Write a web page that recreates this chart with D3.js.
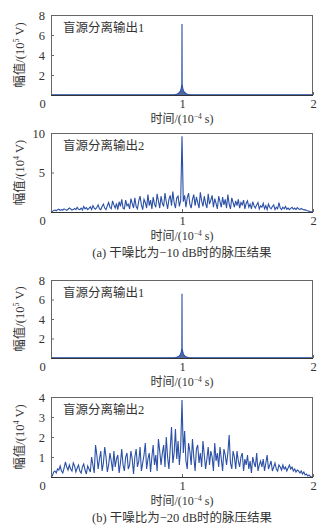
<!DOCTYPE html>
<html lang="zh">
<head>
<meta charset="UTF-8">
<title>脉压结果</title>
<script src="https://cdn.jsdelivr.net/npm/d3@7"></script>
<style>
body{margin:0;background:#fff;}
svg text{font-family:"Liberation Serif","Noto Sans CJK SC",serif;fill:#333;}
.marco{fill:none;stroke:#666;stroke-width:1;}
.linea{fill:none;stroke:#2b50a6;stroke-width:1.1;}
.area{fill:#2b50a6;opacity:0.85;}
</style>
</head>
<body>
<div id="grafico"></div>
<script>
// datos
var xTicks = [0, 1, 2];
var yTicksSalida1 = [2, 4, 6, 8];
var yTicks2a = [5, 10];
var yTicks2b = [1, 2, 3, 4];
var etiquetas = ["盲源分离输出1", "盲源分离输出2"];
var pies = ["(a) 干噪比为−10 dB时的脉压结果", "(b) 干噪比为−20 dB时的脉压结果"];

// salida 1: pico en t=1 (10^5 V)
var spikeT = [0, 0.9, 0.95, 0.965, 0.98, 0.99, 0.996, 0.999, 1.0, 1.001, 1.004, 1.01, 1.02, 1.035, 1.05, 1.1, 2];
var salida1a = [0.02, 0.02, 0.04, 0.1, 0.25, 0.45, 0.8, 1.1, 7.1, 1.1, 0.8, 0.45, 0.25, 0.1, 0.04, 0.02, 0.02];
var salida1b = [0.02, 0.02, 0.04, 0.1, 0.22, 0.4, 0.75, 1.0, 6.6, 1.0, 0.75, 0.4, 0.22, 0.1, 0.04, 0.02, 0.02];

// salida 2 (10^4 V), una muestra cada 0.01 de 0 a 2
var salida2a = [
  0, 0.05, 0.2, 0.25, 0.15, 0.3, 0.35, 0.2, 0.3, 0.25, 0.4, 0.3, 0.2, 0.35, 0.5, 0.4, 0.25, 0.3, 0.45, 0.3,
  0.6, 0.35, 0.3, 0.5, 0.25, 0.7, 0.4, 0.55, 0.3, 0.45, 0.65, 0.3, 0.8, 0.5, 0.35, 0.6, 0.9, 0.4, 0.3, 0.7,
  1.0, 0.5, 0.3, 0.8, 1.2, 0.6, 0.4, 1.4, 0.9, 0.5, 1.1, 0.3, 1.3, 0.7, 1.6, 0.5, 0.4, 1.5, 0.8, 1.0,
  0.4, 1.7, 1.1, 0.5, 1.8, 0.7, 0.4, 1.4, 2.0, 0.9, 0.3, 1.6, 1.2, 0.5, 2.2, 0.8, 1.5, 0.4, 1.9, 1.0,
  0.6, 2.3, 1.4, 0.5, 2.0, 1.1, 0.7, 2.4, 1.3, 0.4, 1.6, 2.1, 0.8, 2.6, 1.2, 0.5, 1.8, 2.0, 0.7, 1.5,
  9.6,
  1.3, 2.1, 0.6, 1.8, 2.4, 1.0, 0.5, 1.6, 2.2, 0.8, 1.9, 1.2, 0.5, 2.5, 1.4, 0.7, 2.0, 1.1, 0.5, 2.3,
  1.0, 1.5, 2.1, 0.6, 1.7, 1.1, 0.4, 2.0, 1.3, 0.6, 1.9, 0.9, 1.6, 0.5, 2.2, 1.0, 0.4, 1.8, 1.2, 0.6,
  1.4, 0.8, 1.6, 0.5, 1.2, 0.9, 1.5, 0.4, 1.1, 1.4, 0.6, 1.0, 0.4, 1.3, 0.8, 0.5, 0.9, 1.2, 0.4, 0.8,
  0.6, 1.1, 0.4, 0.8, 0.3, 1.0, 0.6, 0.4, 0.7, 0.9, 0.3, 0.6, 0.4, 1.2, 0.5, 0.3, 0.6, 0.4, 0.7, 0.35,
  0.5, 0.3, 0.45, 0.6, 0.35, 0.5, 0.3, 0.55, 0.4, 0.3, 0.45, 0.35, 0.25, 0.3, 0.2, 0.15, 0.1, 0.05, 0.02, 0
];
var salida2b = [
  0, 0.05, 0.25, 0.3, 0.2, 0.4, 0.35, 0.55, 0.3, 0.2, 0.45, 0.75, 0.5, 0.35, 0.6, 0.4, 0.3, 0.7, 0.55, 0.25,
  0.45, 0.6, 0.3, 0.2, 0.5, 0.65, 0.35, 0.15, 0.55, 0.4, 0.25, 1.0, 0.6, 0.2, 1.6, 1.1, 0.4, 0.9, 1.3, 0.3,
  0.7, 1.5, 1.0, 0.25, 0.6, 1.2, 0.8, 0.3, 1.3, 0.5, 0.9, 1.1, 0.2, 0.7, 1.4, 0.6, 0.3, 1.0, 1.2, 0.4,
  0.6, 1.3, 0.9, 0.15, 1.0, 1.4, 0.5, 0.8, 1.5, 0.3, 0.7, 1.1, 1.7, 0.4, 0.9, 1.2, 0.25, 1.0, 1.6, 0.6,
  1.1, 0.3, 1.9, 1.3, 0.6, 1.2, 1.6, 0.5, 2.0, 1.0, 0.4, 1.4, 2.5, 0.7, 1.2, 2.4, 0.9, 1.8, 0.6, 1.5,
  3.85,
  1.2, 2.3, 0.8, 0.4, 1.7, 1.3, 0.6, 1.9, 1.0, 0.3, 1.4, 1.6, 0.7, 1.2, 0.5, 1.8, 1.1, 0.4, 0.9, 1.5,
  0.6, 1.3, 1.0, 0.3, 1.7, 0.8, 1.2, 0.5, 1.5, 0.9, 0.3, 1.4, 1.1, 0.6, 1.2, 2.1, 0.7, 0.4, 1.3, 1.0,
  0.4, 1.3, 0.8, 0.5, 1.0, 1.2, 0.3, 0.9, 0.6, 1.1, 0.4, 0.8, 0.2, 1.0, 0.7, 0.5, 1.2, 0.3, 0.6, 0.8,
  0.5, 0.9, 0.3, 0.7, 1.1, 0.4, 0.6, 0.8, 0.3, 0.5, 0.7, 0.4, 0.3, 0.6, 0.5, 0.35, 0.6, 0.4, 0.5, 0.3,
  0.45, 0.6, 0.4, 0.5, 0.3, 0.4, 0.25, 0.35, 0.3, 0.2, 0.3, 0.15, 0.25, 0.1, 0.15, 0.05, 0.1, 0.02, 0, 0
];

var w = 330, h = 532;
var izq = 51, der = 313;

var svg = d3.select("#grafico").append("svg")
  .attr("width", w)
  .attr("height", h);

var xScale = d3.scaleLinear().domain([0, 2]).range([izq, der]);

function muestras(valores) {
  // indice de muestra -> tiempo
  var idx = d3.scaleLinear().domain([0, valores.length - 1]).range([0, 2]);
  return valores.map(function(v, i) { return {t: idx(i), v: v}; });
}

var paneles = [
  {top: 15, bottom: 95, max: 8, ticks: yTicksSalida1, exp: "5", datos: spikeT.map(function(t, i) { return {t: t, v: salida1a[i]}; }), label: etiquetas[0], relleno: true},
  {top: 133, bottom: 212, max: 10, ticks: yTicks2a, exp: "4", datos: muestras(salida2a), label: etiquetas[1], relleno: false, pie: pies[0]},
  {top: 280, bottom: 358, max: 8, ticks: yTicksSalida1, exp: "5", datos: spikeT.map(function(t, i) { return {t: t, v: salida1b[i]}; }), label: etiquetas[0], relleno: true},
  {top: 397, bottom: 477, max: 4, ticks: yTicks2b, exp: "4", datos: muestras(salida2b), label: etiquetas[1], relleno: false, pie: pies[1]}
];

paneles.forEach(function(p) {
  var yScale = d3.scaleLinear().domain([0, p.max]).range([p.bottom, p.top]);
  var g = svg.append("g");

  // serie
  if (p.relleno) {
    var area = d3.area()
      .x(function(d) { return xScale(d.t); })
      .y0(yScale(0))
      .y1(function(d) { return yScale(d.v); });
    g.append("path").datum(p.datos).attr("class", "area").attr("d", area);
  }
  var line = d3.line()
    .x(function(d) { return xScale(d.t); })
    .y(function(d) { return yScale(d.v); });
  g.append("path").datum(p.datos).attr("class", "linea").attr("d", line);

  // marco
  g.append("rect").attr("class", "marco")
    .attr("x", izq + 0.5).attr("y", p.top + 0.5)
    .attr("width", der - izq - 1).attr("height", p.bottom - p.top);
  g.append("line")
    .attr("x1", izq).attr("x2", der)
    .attr("y1", p.bottom + 0.5).attr("y2", p.bottom + 0.5)
    .attr("stroke", "#333").attr("stroke-width", 1.2);

  // eje y
  var ejeY = g.append("g")
    .attr("transform", "translate(" + izq + ",0)")
    .call(d3.axisLeft(yScale).tickValues(p.ticks).tickFormat(d3.format("d")).tickSize(-3).tickPadding(6));
  ejeY.select(".domain").remove();
  ejeY.selectAll("line").attr("stroke", "#666");
  ejeY.selectAll("text").attr("font-size", 12.5).attr("fill", "#333");

  // eje x
  var ejeX = g.append("g")
    .attr("transform", "translate(0," + p.bottom + ")")
    .call(d3.axisBottom(xScale).tickValues(xTicks).tickFormat(d3.format("d")).tickSize(-3).tickPadding(4));
  ejeX.select(".domain").remove();
  ejeX.selectAll("line").attr("stroke", "#666");
  ejeX.selectAll("text").attr("font-size", 12.5).attr("fill", "#333");
  ejeX.selectAll(".tick").filter(function(d) { return d === 0; }).select("text").attr("x", -9);

  // titulo x
  var tx = g.append("text")
    .attr("x", xScale(1)).attr("y", p.bottom + 28)
    .attr("text-anchor", "middle").attr("font-size", 12);
  tx.append("tspan").text("时间/(10");
  tx.append("tspan").attr("dy", -4).attr("font-size", 7.5).text("−4");
  tx.append("tspan").attr("dy", 4).text(" s)");

  // titulo y
  var ty = g.append("text")
    .attr("transform", "translate(24," + (p.top + p.bottom) / 2 + ") rotate(-90)")
    .attr("text-anchor", "middle").attr("font-size", 12.5);
  ty.append("tspan").text("幅值/(10");
  ty.append("tspan").attr("dy", -5).attr("font-size", 8).text(p.exp);
  ty.append("tspan").attr("dy", 5).text(" V)");

  // etiqueta del panel
  g.append("text")
    .attr("x", 63).attr("y", p.top + 17)
    .attr("font-size", 12.5)
    .text(p.label);

  if (p.pie) {
    g.append("text")
      .attr("x", xScale(1)).attr("y", p.bottom + 45)
      .attr("text-anchor", "middle").attr("font-size", 12.5)
      .text(p.pie);
  }
});
</script>
</body>
</html>
